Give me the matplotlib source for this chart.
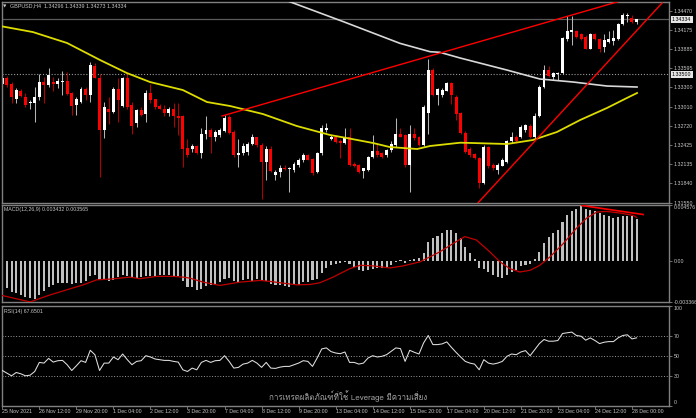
import matplotlib
matplotlib.use('Agg')
import matplotlib.pyplot as plt
import numpy as np
from matplotlib import font_manager
from matplotlib.ft2font import FT2Font

# ---------------- data ----------------
opens = [1.3335, 1.3344, 1.3335, 1.3313, 1.3325, 1.3316, 1.3306, 1.3306, 1.3315, 1.3339,
         1.3334, 1.3339, 1.3336, 1.3338, 1.3340, 1.3321, 1.3303, 1.3308, 1.3327, 1.3318,
         1.3363, 1.3345, 1.3265, 1.3298, 1.3293, 1.3327, 1.3302, 1.3344, 1.3303, 1.3276,
         1.3296, 1.3289, 1.3322, 1.3312, 1.3302, 1.3298, 1.3291, 1.3297, 1.3286, 1.3286,
         1.3238, 1.3236, 1.3241, 1.3230, 1.3259, 1.3266, 1.3254, 1.3258, 1.3264, 1.3285,
         1.3263, 1.3227, 1.3230, 1.3232, 1.3244, 1.3254, 1.3242, 1.3216, 1.3237, 1.3197,
         1.3201, 1.3208, 1.3206, 1.3205, 1.3212, 1.3219, 1.3227, 1.3221, 1.3202, 1.3230,
         1.3266, 1.3251, 1.3255, 1.3249, 1.3246, 1.3255, 1.3213, 1.3212, 1.3203, 1.3204,
         1.3224, 1.3234, 1.3230, 1.3227, 1.3235, 1.3242, 1.3259, 1.3258, 1.3212, 1.3260,
         1.3254, 1.3242, 1.3291, 1.3357, 1.3318, 1.3318, 1.3325, 1.3337, 1.3316, 1.3291,
         1.3261, 1.3237, 1.3229, 1.3222, 1.3185, 1.3240, 1.3212, 1.3204, 1.3211, 1.3217,
         1.3248, 1.3255, 1.3254, 1.3265, 1.3271, 1.3254, 1.3286, 1.3330, 1.3356, 1.3346,
         1.3350, 1.3352, 1.3403, 1.3414, 1.3416, 1.3412, 1.3407, 1.3389, 1.3412, 1.3403,
         1.3392, 1.3399, 1.3401, 1.3403, 1.3426, 1.3438, 1.3436, 1.34296]
highs = [1.3353, 1.3347, 1.3339, 1.3329, 1.3327, 1.3321, 1.3311, 1.3331, 1.3351, 1.3346,
         1.3359, 1.3346, 1.3344, 1.3355, 1.3354, 1.3323, 1.3316, 1.3331, 1.3331, 1.3369,
         1.3367, 1.3351, 1.3308, 1.3316, 1.3331, 1.3344, 1.3346, 1.3351, 1.3308, 1.3298,
         1.3301, 1.3326, 1.3336, 1.3313, 1.3305, 1.3303, 1.3301, 1.3306, 1.3306, 1.3288,
         1.3252, 1.3244, 1.3242, 1.3268, 1.3286, 1.3268, 1.3266, 1.3268, 1.3288, 1.3288,
         1.3265, 1.3252, 1.3245, 1.3247, 1.3260, 1.3255, 1.3245, 1.3241, 1.3241, 1.3204,
         1.3212, 1.3212, 1.3209, 1.3217, 1.3222, 1.3230, 1.3229, 1.3222, 1.3232, 1.3273,
         1.3276, 1.3258, 1.3258, 1.3251, 1.3269, 1.3268, 1.3216, 1.3213, 1.3208, 1.3226,
         1.3258, 1.3245, 1.3232, 1.3237, 1.3248, 1.3283, 1.3268, 1.3260, 1.3273, 1.3268,
         1.3256, 1.3303, 1.3374, 1.3359, 1.3329, 1.3329, 1.3339, 1.3339, 1.3318, 1.3293,
         1.3264, 1.3240, 1.3231, 1.3225, 1.3242, 1.3241, 1.3215, 1.3215, 1.3222, 1.3250,
         1.3263, 1.3258, 1.3273, 1.3275, 1.3274, 1.3291, 1.3334, 1.3364, 1.3362, 1.3353,
         1.3353, 1.3407, 1.3438, 1.3438, 1.3418, 1.3413, 1.3410, 1.3413, 1.3413, 1.3406,
         1.3412, 1.3416, 1.3418, 1.3428, 1.3444, 1.3443, 1.3440, 1.34339]
lows = [1.3331, 1.3331, 1.3306, 1.3307, 1.3315, 1.3301, 1.3298, 1.3278, 1.3311, 1.3306,
        1.3331, 1.3324, 1.3329, 1.3318, 1.3318, 1.3288, 1.3288, 1.3306, 1.3311, 1.3308,
        1.3344, 1.3194, 1.3253, 1.3275, 1.3291, 1.3278, 1.3301, 1.3298, 1.3260, 1.3270,
        1.3287, 1.3278, 1.3306, 1.3298, 1.3297, 1.3286, 1.3286, 1.3270, 1.3258, 1.3209,
        1.3225, 1.3232, 1.3229, 1.3222, 1.3251, 1.3230, 1.3248, 1.3255, 1.3263, 1.3259,
        1.3225, 1.3209, 1.3227, 1.3227, 1.3242, 1.3240, 1.3161, 1.3189, 1.3202, 1.3189,
        1.3194, 1.3204, 1.3171, 1.3202, 1.3209, 1.3217, 1.3219, 1.3197, 1.3200, 1.3227,
        1.3263, 1.3250, 1.3245, 1.3222, 1.3244, 1.3210, 1.3209, 1.3200, 1.3192, 1.3203,
        1.3222, 1.3225, 1.3222, 1.3225, 1.3232, 1.3240, 1.3254, 1.3209, 1.3171, 1.3250,
        1.3241, 1.3241, 1.3259, 1.3317, 1.3303, 1.3316, 1.3324, 1.3305, 1.3280, 1.3259,
        1.3230, 1.3225, 1.3221, 1.3177, 1.3183, 1.3208, 1.3205, 1.3198, 1.3210, 1.3215,
        1.3245, 1.3245, 1.3253, 1.3263, 1.3253, 1.3253, 1.3285, 1.3329, 1.3346, 1.3342,
        1.3341, 1.3350, 1.3400, 1.3395, 1.3406, 1.3402, 1.3388, 1.3388, 1.3402, 1.3384,
        1.3384, 1.3397, 1.3395, 1.3402, 1.3425, 1.3430, 1.3428, 1.34273]
closes = [1.3345, 1.3334, 1.3315, 1.3326, 1.3317, 1.3303, 1.3308, 1.3315, 1.3338, 1.3334,
          1.3349, 1.3336, 1.3340, 1.3340, 1.3320, 1.3302, 1.3313, 1.3328, 1.3318, 1.3364,
          1.3345, 1.3265, 1.3301, 1.3293, 1.3327, 1.3311, 1.3344, 1.3301, 1.3271, 1.3296,
          1.3288, 1.3322, 1.3311, 1.3301, 1.3298, 1.3291, 1.3297, 1.3286, 1.3284, 1.3236,
          1.3227, 1.3241, 1.3230, 1.3260, 1.3266, 1.3255, 1.3263, 1.3265, 1.3284, 1.3261,
          1.3227, 1.3230, 1.3241, 1.3244, 1.3254, 1.3242, 1.3216, 1.3237, 1.3203, 1.3201,
          1.3208, 1.3206, 1.3208, 1.3214, 1.3219, 1.3227, 1.3220, 1.3200, 1.3230, 1.3269,
          1.3269, 1.3255, 1.3247, 1.3245, 1.3255, 1.3212, 1.3210, 1.3202, 1.3207, 1.3224,
          1.3234, 1.3227, 1.3224, 1.3235, 1.3244, 1.3259, 1.3255, 1.3212, 1.3259, 1.3253,
          1.3242, 1.3301, 1.3357, 1.3318, 1.3327, 1.3326, 1.3337, 1.3318, 1.3290, 1.3261,
          1.3232, 1.3227, 1.3222, 1.3185, 1.3240, 1.3210, 1.3207, 1.3212, 1.3220, 1.3248,
          1.3255, 1.3248, 1.3270, 1.3273, 1.3255, 1.3287, 1.3330, 1.3356, 1.3347, 1.3352,
          1.3352, 1.3405, 1.3416, 1.3417, 1.3407, 1.3403, 1.3389, 1.3412, 1.3403, 1.3389,
          1.3402, 1.3403, 1.3406, 1.3426, 1.3440, 1.3440, 1.3430, 1.34334]

# moving averages (bar position, price)
ma_yellow_x = [-0.5, 6.6, 14.0, 21.1, 26.9, 31.9, 39.0, 44.2, 49.2, 56.3, 63.6, 70.8, 74.4,
               80.1, 83.7, 89.6, 92.4, 98.9, 101.7, 109.0, 114.6, 119.8, 124.8, 130.6, 134.9, 137.1]
ma_yellow_v = [1.34235, 1.34143, 1.33976, 1.33718, 1.33520, 1.33383, 1.33261, 1.33079, 1.33018,
               1.32896, 1.32714, 1.32577, 1.32531, 1.32455, 1.32394, 1.32364, 1.32410, 1.32460,
               1.32455, 1.32440, 1.32501, 1.32623, 1.32805, 1.32988, 1.33140, 1.33216]
ma_white_x = [60.0, 62.1, 73.7, 85.9, 92.4, 94.5, 98.9, 109.0, 116.1, 123.3, 130.6, 137.1]
ma_white_v = [1.34660, 1.34604, 1.34300, 1.33971, 1.33844, 1.33835, 1.33748, 1.33565,
              1.33429, 1.33383, 1.33322, 1.33307]

# trend lines (bar position, price)
trend1_x = [47.45, 140.0]
trend1_v = [1.32866, 1.34747]
trend2_x = [101.5, 142.5]
trend2_v = [1.31450, 1.34584]

bid_price = 1.34334
hline_price = 1.33500

# MACD histogram (one per bar) and signal line
macd = [-0.00204, -0.00224, -0.00251, -0.00265, -0.00279, -0.00293, -0.00305, -0.00312, -0.00279, -0.00243,
        -0.00215, -0.00196, -0.00182, -0.00182, -0.00182, -0.00188, -0.00182, -0.00182, -0.00168, -0.00121,
        -0.00113, -0.00155, -0.00155, -0.00168, -0.00155, -0.00133, -0.00113, -0.00121, -0.00141, -0.00141,
        -0.00133, -0.00121, -0.00121, -0.00127, -0.00113, -0.00113, -0.00113, -0.00121, -0.00127, -0.00168,
        -0.00210, -0.00215, -0.00238, -0.00229, -0.00207, -0.00196, -0.00188, -0.00174, -0.00152, -0.00141,
        -0.00168, -0.00174, -0.00160, -0.00146, -0.00168, -0.00152, -0.00160, -0.00168, -0.00188, -0.00196,
        -0.00201, -0.00207, -0.00215, -0.00201, -0.00196, -0.00174, -0.00174, -0.00160, -0.00152, -0.00097,
        -0.00058, -0.00036, -0.00022, -0.00014, -0.00008, -0.00022, -0.00050, -0.00077, -0.00085, -0.00077,
        -0.00063, -0.00058, -0.00058, -0.00050, -0.00030, -0.00008, 0.00006, -0.00014, 0.00006, 0.00019,
        0.00025, 0.00061, 0.00152, 0.00185, 0.00207, 0.00226, 0.00251, 0.00251, 0.00226, 0.00190,
        0.00116, 0.00066, 0.00019, -0.00058, -0.00063, -0.00091, -0.00119, -0.00132, -0.00141, -0.00119,
        -0.00091, -0.00077, -0.00041, -0.00030, -0.00022, 0.00019, 0.00074, 0.00149, 0.00193, 0.00226,
        0.00254, 0.00317, 0.00372, 0.00405, 0.00427, 0.004576, 0.00427, 0.00419, 0.00405, 0.00392,
        0.00378, 0.00364, 0.00350, 0.00356, 0.00364, 0.00364, 0.00364, 0.003432]
signal_x = [-0.5, 6.0, 10.3, 13.9, 17.5, 20.4, 23.3, 27.6, 29.7, 33.3, 36.9, 39.1,
            40.5, 43.4, 47.0, 51.3, 55.7, 57.8, 60.0, 63.6, 66.5, 68.6, 71.5, 75.1, 77.3,
            80.1, 83.7, 86.6, 90.2, 94.5, 97.4, 99.9, 102.4, 105.3, 107.5, 109.6, 111.8,
            114.0, 116.1, 118.3, 121.2, 124.0, 126.2, 128.4, 130.5, 133.4, 136.3, 137.0]
signal_v = [-0.00279, -0.00336, -0.00279, -0.00237, -0.00196, -0.00155, -0.00149, -0.00133,
            -0.00146, -0.00127, -0.00127, -0.00133, -0.00141, -0.00174, -0.00201, -0.00174,
            -0.00160, -0.00168, -0.00179, -0.00196, -0.00193, -0.00179, -0.00132, -0.00063,
            -0.00036, -0.00041, -0.00058, -0.00041, -0.00008, 0.00074, 0.00143, 0.00199,
            0.00171, 0.00074, -0.00008, -0.00063, -0.00091, -0.00077, -0.00036, 0.00033,
            0.00143, 0.00267, 0.00350, 0.00400, 0.00405, 0.00392, 0.00372, 0.003565]
macd_trend_x = [125.2, 138.4]
macd_trend_v = [0.004535, 0.003798]

# RSI(14)
rsi = [35.0, 32.4, 29.7, 33.0, 31.7, 29.7, 30.3, 34.0, 43.1, 42.4,
       47.1, 43.4, 44.8, 45.1, 40.8, 35.0, 39.7, 44.8, 43.1, 55.2,
       50.8, 35.0, 42.4, 42.4, 48.5, 45.8, 51.5, 45.8, 40.8, 44.1,
       44.8, 49.8, 48.5, 46.5, 45.8, 45.1, 45.1, 44.1, 43.4, 35.7,
       34.0, 37.4, 35.7, 43.1, 45.1, 43.1, 44.8, 45.1, 49.8, 44.1,
       37.4, 38.1, 41.4, 42.4, 45.1, 42.4, 38.1, 43.1, 37.4, 37.1,
       38.4, 39.1, 39.1, 40.8, 42.4, 44.8, 44.1, 39.1, 47.5, 56.6,
       57.6, 53.9, 52.5, 51.8, 53.5, 43.1, 43.1, 41.4, 42.4, 47.5,
       49.8, 48.5, 49.2, 50.8, 54.2, 57.6, 56.9, 44.1, 55.2, 53.2,
       51.5, 62.6, 70.0, 60.9, 60.9, 61.6, 63.6, 58.2, 53.2, 48.5,
       44.1, 42.4, 41.4, 35.7, 45.8, 42.4, 41.4, 42.4, 44.1, 49.2,
       51.5, 50.8, 53.5, 54.9, 49.8, 55.9, 61.9, 66.0, 64.3, 64.3,
       65.0, 72.0, 72.7, 73.4, 70.0, 69.3, 65.3, 67.6, 65.0, 61.9,
       63.3, 63.9, 63.9, 67.6, 70.0, 70.7, 66.6, 67.65]
rsi_levels = [70, 50, 30]

price_ticks = [1.34470, 1.34175, 1.33885, 1.33595, 1.33300, 1.33010, 1.32720,
               1.32425, 1.32135, 1.31840, 1.31550]
macd_ticks = [0.004576, 0.0, -0.003366]
macd_tick_labels = ['0.004576', '0.00', '-0.003366']
rsi_ticks = [100, 70, 50, 30, 0]
date_labels = ['25 Nov 2021', '26 Nov 12:00', '29 Nov 20:00', '1 Dec 04:00', '2 Dec 12:00',
               '3 Dec 20:00', '7 Dec 04:00', '8 Dec 12:00', '9 Dec 20:00', '13 Dec 04:00',
               '14 Dec 12:00', '15 Dec 20:00', '17 Dec 04:00', '20 Dec 12:00', '21 Dec 20:00',
               '23 Dec 04:00', '24 Dec 12:00', '28 Dec 00:00']
date_step = 8

title_text = 'GBPUSD,H4  1.34296 1.34339 1.34273 1.34334'
macd_text = 'MACD(12,26,9) 0.003432 0.003565'
rsi_text = 'RSI(14) 67.6501'
watermark = 'การเทรดผลิตภัณฑ์ที่ใช้ Leverage มีความเสี่ยง'

# ---------------- helpers ----------------
def pick_font(sample, default='DejaVu Sans'):
    seen = set()
    for fe in font_manager.fontManager.ttflist:
        if fe.fname in seen:
            continue
        seen.add(fe.fname)
        try:
            cmap = FT2Font(fe.fname).get_charmap()
        except Exception:
            continue
        if all(ord(ch) in cmap for ch in sample):
            return fe.name
    return default

thai_font = pick_font('การเทรดผลิตภัณฑ์')

W, H = 696, 418
fig = plt.figure(figsize=(W / 100, H / 100), dpi=100, facecolor='black')

def rect(x0, y0, x1, y1):
    return [x0 / W, 1 - y1 / H, (x1 - x0) / W, (y1 - y0) / H]

ax = fig.add_axes(rect(2, 2, 669, 203))
axm = fig.add_axes(rect(2, 205, 669, 302), sharex=ax)
axr = fig.add_axes(rect(2, 305.5, 669, 405.5), sharex=ax)

GRID = '#808080'
LBL = '#C8C8C8'
FONT = ['Liberation Sans', 'DejaVu Sans']
FS = 3.8

for a in (ax, axm, axr):
    a.set_facecolor('black')
    for s in a.spines.values():
        s.set_color(GRID)
        s.set_linewidth(1.0)
    a.yaxis.tick_right()
    a.tick_params(axis='y', colors=GRID, labelcolor=LBL, length=2, width=0.6,
                  pad=1.2, labelsize=FS)
    a.set_xlim(-0.065, 144.0)

# ---------------- main price window ----------------
o = np.array(opens); h = np.array(highs); l = np.array(lows); c = np.array(closes)
idx = np.arange(len(o))
up = c >= o
body_lo = np.minimum(o, c)
body_h = np.maximum(np.abs(c - o), 0.00012)
ax.vlines(idx[up], l[up], h[up], color='#B4B4B4', lw=0.75, zorder=2)
ax.vlines(idx[~up], l[~up], h[~up], color='#B00000', lw=0.75, zorder=2)
ax.bar(idx[up], body_h[up], bottom=body_lo[up], width=0.64, color='#FFFFFF', linewidth=0, zorder=2.5)
ax.bar(idx[~up], body_h[~up], bottom=body_lo[~up], width=0.64, color='#FF0000', linewidth=0, zorder=2.5)

ax.axhline(hline_price, color='#9A9A9A', lw=0.8, ls=(0, (1, 1.6)), zorder=1)
ax.axhline(bid_price, color='#5A5A5A', lw=0.9, zorder=1)

ax.plot(ma_yellow_x, ma_yellow_v, color='#DCDC00', lw=1.3, zorder=3)
ax.plot(ma_white_x, ma_white_v, color='#D8D8D8', lw=1.2, zorder=3)
ax.plot(trend1_x, trend1_v, color='#FF0000', lw=1.0, zorder=4)
ax.plot(trend2_x, trend2_v, color='#FF0000', lw=1.0, zorder=4)

ax.set_ylim(1.31543, 1.34600)
ax.set_yticks(price_ticks, labels=['%.5f' % v for v in price_ticks])
ax.tick_params(axis='x', bottom=False, labelbottom=False)

for val in (bid_price, hline_price):
    ax.text(1.0045, val, '%.5f' % val, transform=ax.get_yaxis_transform(),
            fontsize=FS, family=FONT, color='black', va='center', ha='left', zorder=10,
            clip_on=False,
            bbox=dict(boxstyle='square,pad=0.25', fc='#E6E6E6', ec='#E6E6E6', lw=0))

# ---------------- MACD window ----------------
mv = np.array(macd)
axm.bar(idx, mv, width=0.45, color='#C0C0C0', linewidth=0, zorder=2)
axm.plot(signal_x, signal_v, color='#C00000', lw=0.9, zorder=3)
axm.plot(macd_trend_x, macd_trend_v, color='#FF0000', lw=1.2, zorder=4)
axm.set_ylim(-0.003366, 0.004576)
axm.set_yticks(macd_ticks, labels=macd_tick_labels)
axm.get_yticklabels()[0].set_va('top')
axm.tick_params(axis='x', bottom=False, labelbottom=False)

# ---------------- RSI window ----------------
for lv in rsi_levels:
    axr.axhline(lv, color='#9A9A9A', lw=0.7, ls=(0, (1, 1.8)), zorder=1)
axr.plot(idx, rsi, color='#E0E0E0', lw=0.75, zorder=3)
axr.set_ylim(0, 100)
axr.set_yticks(rsi_ticks, labels=[str(v) for v in rsi_ticks])
axr.get_yticklabels()[0].set_va('top')
axr.get_yticklabels()[-1].set_va('bottom')
date_pos = [i * date_step for i in range(len(date_labels))]
axr.set_xticks(date_pos)
axr.set_xticklabels(date_labels, ha='left')
axr.tick_params(axis='x', colors=GRID, labelcolor=LBL, length=2.2, width=0.6, pad=0.6,
                labelsize=FS)

for a in (ax, axm, axr):
    for t in a.get_yticklabels() + a.get_xticklabels():
        t.set_family(FONT)

# ---------------- texts ----------------
fig.text(2.5 / W, 1 - 6.2 / H, '\u25BC', fontsize=3.2, color=LBL, family=['DejaVu Sans'],
         va='center', ha='left')
fig.text(10 / W, 1 - 6.2 / H, title_text, fontsize=3.9, color=LBL, family=FONT,
         va='center', ha='left')
fig.text(3.5 / W, 1 - 209.5 / H, macd_text, fontsize=FS, color=LBL, family=FONT,
         va='center', ha='left')
fig.text(3.5 / W, 1 - 311.5 / H, rsi_text, fontsize=FS, color=LBL, family=FONT,
         va='center', ha='left')
fig.text(348 / W, 1 - 396 / H, watermark, fontsize=5.7, color='#A0A0A0',
         family=[thai_font, 'DejaVu Sans'], va='center', ha='center')

fig.savefig('out.png', dpi=100, facecolor='black')
